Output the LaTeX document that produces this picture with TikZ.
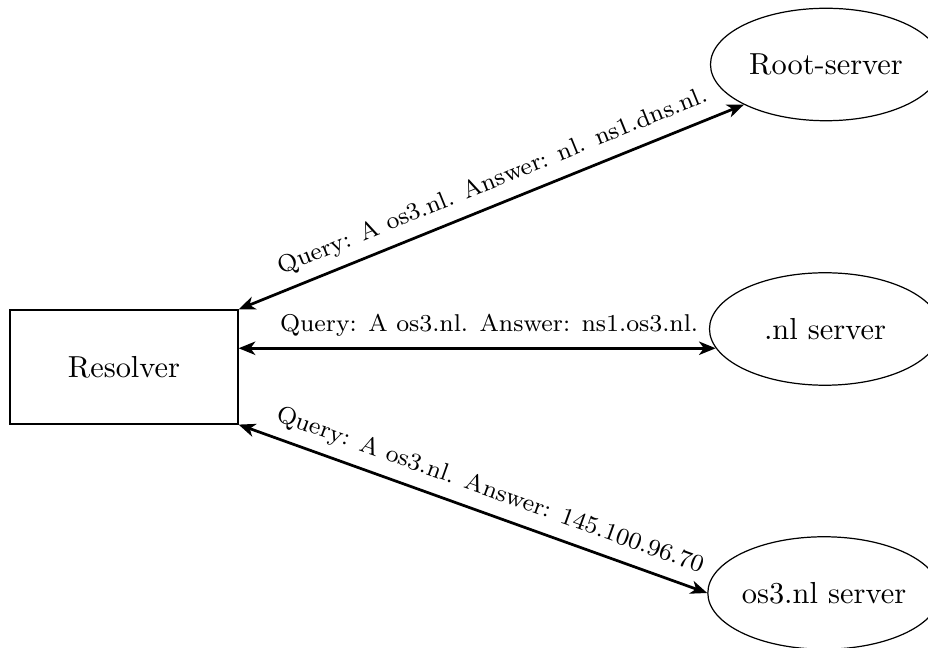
\documentclass[tikz,border=0pt]{standalone}
\usetikzlibrary{shapes.geometric,arrows.meta}
\begin{document}
\begin{tikzpicture}[x=0.329pt,y=-0.329pt,
  box/.style={draw, line width=0.4pt, minimum width=75pt, minimum height=37.5pt, inner sep=0pt},
  server/.style={ellipse, draw, line width=0.4pt, minimum width=76pt, minimum height=37pt, inner sep=0pt},
  link/.style={{Stealth[length=5.5pt,width=4.4pt,inset=1.6pt]}-{Stealth[length=5.5pt,width=4.4pt,inset=1.6pt]}, line width=0.9pt},
  lbl/.style={font=\footnotesize, midway, above, sloped}]
\useasboundingbox (0,0) rectangle (928,648);
\node[box] (res) at (124,367) {Resolver};
\node[server] (root) at (826,64.5) {Root-server};
\node[server] (nl) at (825,329) {.nl server};
\node[server] (os3) at (824,593) {os3.nl server};
\draw[link] (res.north east) -- node[lbl, pos=0.52] {Query: A os3.nl. Answer: nl. ns1.dns.nl.} (root.south west);
\draw[link] (res.east |- nl.190) -- node[lbl, pos=0.525] {Query: A os3.nl. Answer: ns1.os3.nl.} (nl.190);
\draw[link] (res.south east) -- node[lbl, pos=0.52] {Query: A os3.nl. Answer: 145.100.96.70} (os3.west);
\end{tikzpicture}
\end{document}
